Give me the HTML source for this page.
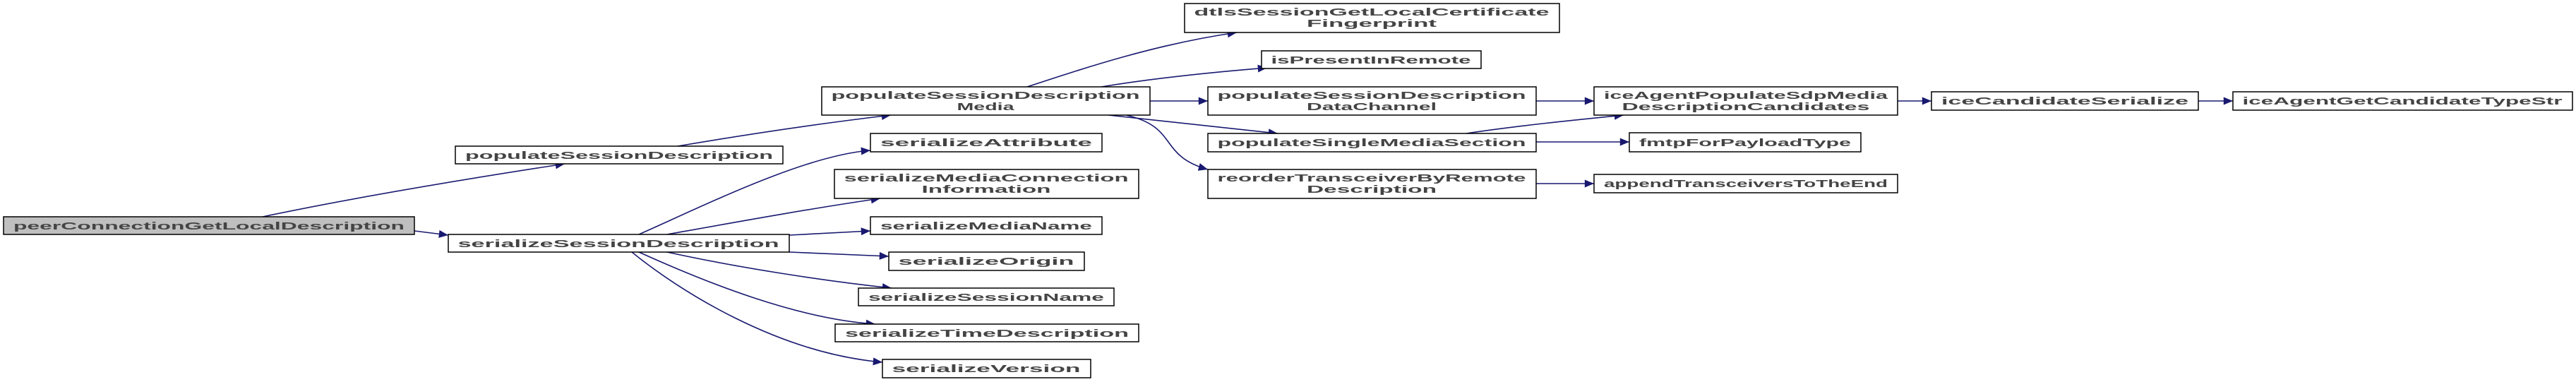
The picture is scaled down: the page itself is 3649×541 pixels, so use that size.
<!DOCTYPE html>
<html><head><meta charset="utf-8"><style>
html,body{margin:0;padding:0;background:#fff;width:3649px;height:541px;overflow:hidden}
svg text{font-family:"Liberation Sans",sans-serif;font-size:15px;fill:#444;font-weight:bold}
</style></head><body>
<svg width="3649" height="541" viewBox="0 0 3649 541" xmlns="http://www.w3.org/2000/svg">
<defs><marker id="ah" markerWidth="10" markerHeight="8" refX="9" refY="4" orient="auto" markerUnits="userSpaceOnUse"><path d="M0,0 L10,4 L0,8 z" fill="#191970"/></marker>
<marker id="a" viewBox="0 0 12 10" markerWidth="14" markerHeight="11" refX="12" refY="5" orient="auto" markerUnits="userSpaceOnUse"><path d="M0,0 L12,5 L0,10 z" fill="#191970"/></marker></defs>
<g fill="none" stroke="#191970" stroke-width="1.6" marker-end="url(#a)">
<path d="M372,307 C500,280 650,255 800,232"/>
<path d="M587,327 L635,333"/>
<path d="M960,207 C1060,190 1160,175 1262,163"/>
<path d="M1455,123 C1540,95 1640,62 1752,46"/>
<path d="M1560,123 C1640,110 1720,102 1795,96"/>
<path d="M1629,143 L1711,143"/>
<path d="M1570,163 C1660,172 1740,182 1810,189"/>
<path d="M1595,163 C1670,180 1640,220 1711,240"/>
<path d="M2176,143 L2258,143"/>
<path d="M2077,189 C2150,178 2230,170 2300,163"/>
<path d="M2176,201 L2308,201"/>
<path d="M2176,260 L2258,260"/>
<path d="M2688,143 L2736,143"/>
<path d="M3114,143 L3163,143"/>
<path d="M905,332 C1000,290 1140,220 1233,213"/>
<path d="M945,332 C1040,315 1150,295 1247,281"/>
<path d="M1118,333 L1233,327"/>
<path d="M1118,357 L1259,363"/>
<path d="M945,357 C1050,380 1170,398 1263,408"/>
<path d="M905,357 C1000,400 1130,452 1240,459"/>
<path d="M895,357 C960,410 1100,500 1250,513"/>
</g>
<g stroke="#000" stroke-width="1.5" fill="#fff">
<rect x="5" y="307" width="582" height="25" fill="#bfbfbf"/>
<rect x="645" y="207" width="464" height="25"/>
<rect x="635" y="332" width="483" height="25"/>
<rect x="1164" y="123" width="465" height="40"/>
<rect x="1678" y="5" width="531" height="41"/>
<rect x="1787" y="72" width="311" height="25"/>
<rect x="1711" y="123" width="465" height="40"/>
<rect x="1711" y="189" width="465" height="26"/>
<rect x="1711" y="240" width="465" height="41"/>
<rect x="1233" y="189" width="328" height="26"/>
<rect x="1182" y="240" width="431" height="41"/>
<rect x="1233" y="307" width="328" height="25"/>
<rect x="1259" y="357" width="277" height="26"/>
<rect x="1216" y="408" width="362" height="25"/>
<rect x="1183" y="459" width="430" height="25"/>
<rect x="1250" y="509" width="295" height="26"/>
<rect x="2258" y="123" width="430" height="40"/>
<rect x="2736" y="130" width="378" height="26"/>
<rect x="3163" y="130" width="481" height="26"/>
<rect x="2308" y="188" width="328" height="27"/>
<rect x="2258" y="247" width="430" height="26"/>
</g>
<g text-anchor="middle" lengthAdjust="spacingAndGlyphs">
<text x="296" y="325" textLength="554" lengthAdjust="spacingAndGlyphs">peerConnectionGetLocalDescription</text>
<text x="877" y="225" textLength="436" lengthAdjust="spacingAndGlyphs">populateSessionDescription</text>
<text x="876" y="350" textLength="455" lengthAdjust="spacingAndGlyphs">serializeSessionDescription</text>
<text x="1396" y="140" textLength="437" lengthAdjust="spacingAndGlyphs">populateSessionDescription</text>
<text x="1396" y="156" textLength="81" lengthAdjust="spacingAndGlyphs">Media</text>
<text x="1943" y="22" textLength="503" lengthAdjust="spacingAndGlyphs">dtlsSessionGetLocalCertificate</text>
<text x="1943" y="38" textLength="184" lengthAdjust="spacingAndGlyphs">Fingerprint</text>
<text x="1942" y="90" textLength="283" lengthAdjust="spacingAndGlyphs">isPresentInRemote</text>
<text x="1943" y="140" textLength="437" lengthAdjust="spacingAndGlyphs">populateSessionDescription</text>
<text x="1943" y="156" textLength="184" lengthAdjust="spacingAndGlyphs">DataChannel</text>
<text x="1943" y="207" textLength="437" lengthAdjust="spacingAndGlyphs">populateSingleMediaSection</text>
<text x="1943" y="257" textLength="437" lengthAdjust="spacingAndGlyphs">reorderTransceiverByRemote</text>
<text x="1943" y="273" textLength="184" lengthAdjust="spacingAndGlyphs">Description</text>
<text x="1397" y="207" textLength="300" lengthAdjust="spacingAndGlyphs">serializeAttribute</text>
<text x="1397" y="257" textLength="403" lengthAdjust="spacingAndGlyphs">serializeMediaConnection</text>
<text x="1397" y="273" textLength="183" lengthAdjust="spacingAndGlyphs">Information</text>
<text x="1397" y="325" textLength="300" lengthAdjust="spacingAndGlyphs">serializeMediaName</text>
<text x="1397" y="375" textLength="249" lengthAdjust="spacingAndGlyphs">serializeOrigin</text>
<text x="1397" y="426" textLength="334" lengthAdjust="spacingAndGlyphs">serializeSessionName</text>
<text x="1398" y="477" textLength="402" lengthAdjust="spacingAndGlyphs">serializeTimeDescription</text>
<text x="1397" y="527" textLength="267" lengthAdjust="spacingAndGlyphs">serializeVersion</text>
<text x="2473" y="140" textLength="402" lengthAdjust="spacingAndGlyphs">iceAgentPopulateSdpMedia</text>
<text x="2473" y="156" textLength="351" lengthAdjust="spacingAndGlyphs">DescriptionCandidates</text>
<text x="2925" y="148" textLength="350" lengthAdjust="spacingAndGlyphs">iceCandidateSerialize</text>
<text x="3403" y="148" textLength="453" lengthAdjust="spacingAndGlyphs">iceAgentGetCandidateTypeStr</text>
<text x="2472" y="207" textLength="300" lengthAdjust="spacingAndGlyphs">fmtpForPayloadType</text>
<text x="2473" y="265" textLength="402" lengthAdjust="spacingAndGlyphs">appendTransceiversToTheEnd</text>
</g>
</svg>
</body></html>
